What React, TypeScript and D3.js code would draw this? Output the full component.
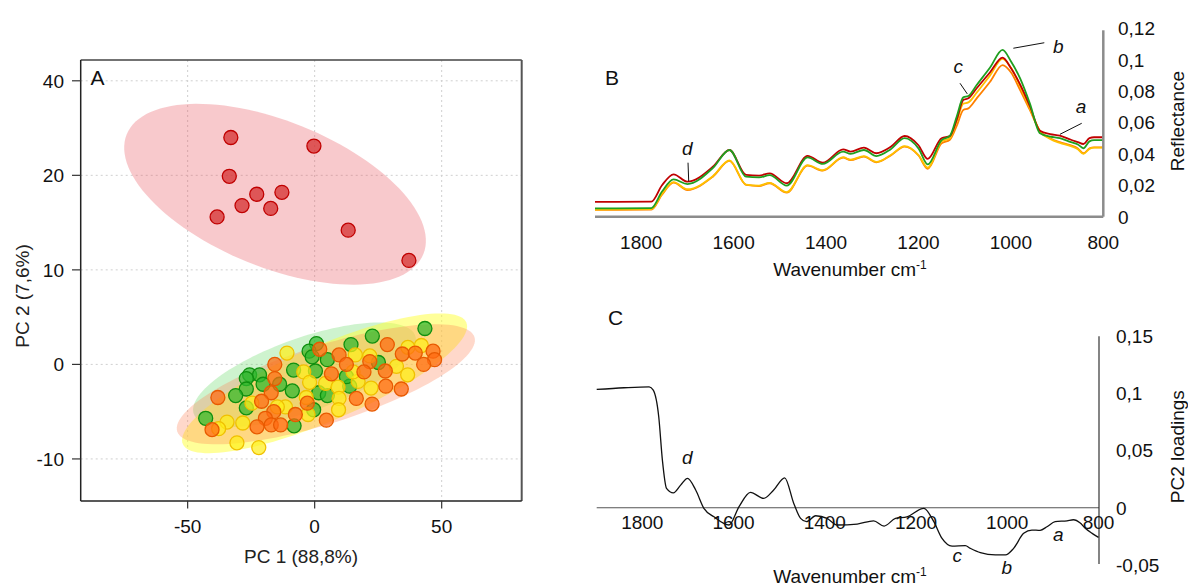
import React from "react";
import * as d3 from "d3";

// ---------- Panel A data (PCA scores) ----------
const redPC1 = [-33.0, -0.3, -33.6, -22.8, -12.9, -28.6, -17.3, -38.4, 13.2, 37.1];
const redPC2 = [24.0, 23.1, 19.9, 18.0, 18.2, 16.8, 16.5, 15.6, 14.2, 11.0];

const greenPC1 = [43.4, 22.7, 14.3, 0.7, -2.2, -1.0, 5.0, 25.1, -8.3, 0.3, -25.6, -21.7, -26.9, -20.3, -13.8, -26.9, -8.8, -31.1, 1.6, 5.0, 13.8, -26.9, -0.4, -42.9, -8.1, 12.5];
const greenPC2 = [3.8, 3.0, 2.1, 2.2, 1.4, 0.8, 0.5, 0.2, -0.6, -0.7, -1.1, -1.1, -1.5, -2.1, -2.1, -2.6, -2.8, -3.3, -3.0, -3.3, -2.3, -4.6, -4.8, -5.7, -6.5, -1.3];

const yellowPC1 = [-10.9, 36.7, 42.0, 16.0, 21.7, -4.3, -2.0, 4.3, 9.2, 32.2, 36.6, 17.1, 22.2, 9.6, 9.4, -3.3, -11.5, -14.7, -24.7, -34.5, -28.3, -37.8, -30.6, -22.0, -2.6, 15.1];
const yellowPC2 = [1.2, 1.8, 2.0, 1.0, 0.9, -0.8, -1.9, -2.0, -2.4, -0.2, -1.1, -1.8, -2.5, -3.6, -4.8, -3.5, -4.5, -4.5, -4.1, -6.1, -6.2, -6.8, -8.3, -8.8, -5.3, -0.8];

const orangePC1 = [2.0, 9.6, 28.6, 34.5, 39.6, 46.6, 47.2, 42.9, 21.7, 19.4, 27.8, 12.5, 6.6, -15.7, -15.7, -17.1, -38.1, -20.9, -2.9, 16.4, 22.6, 28.0, 34.1, -16.1, -19.4, -7.6, 4.6, -22.7, -17.1, -13.4, -40.4];
const orangePC2 = [1.6, 1.0, 2.1, 1.1, 1.2, 1.4, 0.5, 0.0, 0.3, -0.8, -0.7, 0.0, -1.0, 0.0, -1.5, -3.0, -3.5, -3.9, -4.1, -3.6, -4.2, -2.3, -2.6, -5.0, -5.7, -5.3, -5.9, -6.6, -6.4, -6.4, -6.9];

// confidence ellipses: centre and semi-axis vectors, in score units
const ellipseGroups = ["green", "yellow", "orange", "red"];
const ellipseCenterX = [-4.0, 3.9, 4.4, -15.6];
const ellipseCenterY = [-1.1, -2.0, -2.1, 18.0];
const ellipseMajorX = [43.6, 55.8, 58.5, 58.4];
const ellipseMajorY = [4.13, 6.43, 4.99, -6.33];
const ellipseMinorX = [4.83, 5.82, 4.64, -10.75];
const ellipseMinorY = [-3.68, -3.65, -3.93, -7.17];

const xTicksA = [-50, 0, 50];
const yTicksA = [-10, 0, 10, 20, 30];
const yTickLabelsA = ["-10", "0", "10", "20", "40"];

// ---------- Panel B data (spectra) ----------
const wnB = [1900, 1778, 1755, 1730, 1700, 1645, 1609, 1573, 1545, 1522, 1485, 1440, 1407, 1363, 1347, 1318, 1291, 1260, 1230, 1200, 1180, 1150, 1132, 1117, 1103, 1092, 1074, 1045, 1018, 1000, 980, 959, 937, 915, 894, 870, 855, 843, 830, 820, 800];
const reflRed = [0.0094, 0.0096, 0.020, 0.027, 0.0223, 0.0318, 0.0425, 0.0266, 0.0262, 0.0276, 0.0213, 0.0387, 0.0344, 0.0429, 0.0415, 0.044, 0.0404, 0.0445, 0.0514, 0.0455, 0.0368, 0.050, 0.0513, 0.062, 0.0743, 0.0754, 0.0818, 0.092, 0.1013, 0.0947, 0.0842, 0.0705, 0.0547, 0.0526, 0.0516, 0.049, 0.0475, 0.0463, 0.050, 0.0506, 0.0506];
const reflGreen = [0.0053, 0.0055, 0.016, 0.0238, 0.0208, 0.031, 0.0425, 0.0255, 0.025, 0.0265, 0.0198, 0.0378, 0.0336, 0.0415, 0.040, 0.0425, 0.0386, 0.043, 0.050, 0.0435, 0.0333, 0.0488, 0.0515, 0.064, 0.076, 0.0769, 0.0839, 0.095, 0.1062, 0.099, 0.0881, 0.0722, 0.0531, 0.051, 0.050, 0.0475, 0.046, 0.0436, 0.048, 0.0488, 0.0488];
const reflYellow = [0.0046, 0.0048, 0.0145, 0.022, 0.0175, 0.0258, 0.0358, 0.0205, 0.0198, 0.0216, 0.0156, 0.0328, 0.0296, 0.0379, 0.0363, 0.0386, 0.0349, 0.0393, 0.0449, 0.0393, 0.0312, 0.048, 0.050, 0.061, 0.072, 0.0728, 0.079, 0.090, 0.1005, 0.095, 0.083, 0.069, 0.0545, 0.0495, 0.047, 0.045, 0.043, 0.040, 0.0432, 0.044, 0.044];
const reflOrange = [0.0043, 0.0045, 0.014, 0.0217, 0.017, 0.0255, 0.0355, 0.0202, 0.0195, 0.0213, 0.0153, 0.0325, 0.0293, 0.0376, 0.036, 0.0383, 0.0346, 0.039, 0.0446, 0.039, 0.0305, 0.0467, 0.049, 0.058, 0.068, 0.069, 0.0754, 0.086, 0.0966, 0.092, 0.0807, 0.068, 0.0545, 0.050, 0.0475, 0.0455, 0.0435, 0.0404, 0.0435, 0.0442, 0.0442];

const xTicksB = [1800, 1600, 1400, 1200, 1000, 800];
const yTicksB = [0, 0.02, 0.04, 0.06, 0.08, 0.1, 0.12];
const yTickLabelsB = ["0", "0,02", "0,04", "0,06", "0,08", "0,1", "0,12"];

const annotB = ["d", "c", "b", "a"];
const annotBTextWn = [1700.3, 1113.8, 897.4, 848.2];
const annotBTextV = [0.0396, 0.0913, 0.1044, 0.0659];
const annotBLineWn1 = [1698.7, 1110.1, 927.7, 846.7];
const annotBLineV1 = [0.0344, 0.085, 0.1108, 0.0595];
const annotBLineWn2 = [1697.2, 1094.3, 994.7, 893.7];
const annotBLineV2 = [0.0225, 0.0782, 0.1073, 0.0525];

// ---------- Panel C data (PC2 loadings) ----------
const wnC = [1900, 1840, 1785, 1776, 1764, 1756, 1747, 1732, 1716, 1701, 1683, 1665, 1643, 1610, 1588, 1563, 1534, 1512, 1488, 1468, 1453, 1440, 1420, 1395, 1373, 1329, 1293, 1270, 1245, 1220, 1183, 1161, 1143, 1121, 1092, 1081, 1059, 1026, 1004, 986, 964, 946, 928, 913, 895, 869, 855, 840, 829, 814, 800];
const loadPC2 = [0.1035, 0.105, 0.1058, 0.1029, 0.0796, 0.0417, 0.017, 0.0131, 0.0198, 0.0257, 0.0155, -0.0005, -0.0079, -0.0151, 0.0009, 0.0135, 0.0082, 0.0155, 0.0262, 0.0038, -0.0093, -0.0122, -0.007, -0.0093, -0.0151, -0.0143, -0.0114, -0.016, -0.0093, -0.0079, -0.0005, -0.0122, -0.0268, -0.0335, -0.0332, -0.0355, -0.0393, -0.0413, -0.0413, -0.0355, -0.0224, -0.0195, -0.0198, -0.0166, -0.0122, -0.0114, -0.0105, -0.0134, -0.018, -0.0224, -0.0259];

const xTicksC = [1800, 1600, 1400, 1200, 1000, 800];
const yTicksC = [-0.05, 0, 0.05, 0.1, 0.15];
const yTickLabelsC = ["-0,05", "0", "0,05", "0,1", "0,15"];

const annotC = ["d", "c", "b", "a"];
const annotCWn = [1701.4, 1109.5, 1001.2, 888.1];
const annotCV = [0.0387, -0.0478, -0.0576, -0.0291];

const FONT = "'Liberation Sans', Arial, sans-serif";

export default function App() {
  // ---- scales ----
  const xA = d3.scaleLinear().domain([-92.1, 81.5]).range([80.7, 521.7]);
  const yA = d3.scaleLinear().domain([-14.45, 32.2]).range([501, 60]);

  const xB = d3.scaleLinear().domain([1900, 800]).range([595, 1103.3]);
  const yB = d3.scaleLinear().domain([0, 0.12]).range([216.7, 28.3]);

  const xC = d3.scaleLinear().domain([1900, 800]).range([596.7, 1098.5]);
  const yC = d3.scaleLinear().domain([-0.05, 0.15]).range([564.9, 336.3]);

  const ellipseStyle: Record<string, { fill: string; op: number }> = {
    green: { fill: "#5cd65c", op: 0.3 },
    yellow: { fill: "#ffff33", op: 0.5 },
    orange: { fill: "#ff7f50", op: 0.3 },
    red: { fill: "#e8575f", op: 0.32 },
  };

  const ellipsePath = (i: number) => {
    const pts: [number, number][] = d3.range(0, 121).map((k) => {
      const t = (k / 120) * 2 * Math.PI;
      const dx = ellipseCenterX[i] + ellipseMajorX[i] * Math.cos(t) + ellipseMinorX[i] * Math.sin(t);
      const dy = ellipseCenterY[i] + ellipseMajorY[i] * Math.cos(t) + ellipseMinorY[i] * Math.sin(t);
      return [xA(dx), yA(dy)];
    });
    return d3.line().curve(d3.curveLinearClosed)(pts) || "";
  };

  const groups = [
    { xs: greenPC1, ys: greenPC2, fill: "#2eb82e", stroke: "#0f8f0f" },
    { xs: yellowPC1, ys: yellowPC2, fill: "#ffee1a", stroke: "#f0c000" },
    { xs: orangePC1, ys: orangePC2, fill: "#ff6a10", stroke: "#e85a00" },
    { xs: redPC1, ys: redPC2, fill: "#d42a2a", stroke: "#c00000" },
  ];

  const lineB = (vals: number[]) =>
    d3.line<number>().x((_, i) => xB(wnB[i])).y((v) => yB(v)).curve(d3.curveMonotoneX)(vals) || "";
  const lineC =
    d3.line<number>().x((_, i) => xC(wnC[i])).y((v) => yC(v)).curve(d3.curveMonotoneX)(loadPC2) || "";

  const spectra = [
    { vals: reflOrange, color: "#ff8000" },
    { vals: reflYellow, color: "#ffc000" },
    { vals: reflRed, color: "#c00000" },
    { vals: reflGreen, color: "#1f9f1f" },
  ];

  const fs = 19;

  return (
    <svg
      width={1188}
      height={588}
      style={{ position: "absolute", left: 0, top: 0, background: "#fff" }}
      fontFamily={FONT}
    >
      {/* ================= Panel A ================= */}
      <g>
        {/* grid */}
        {xTicksA.map((t) => (
          <line key={"gx" + t} x1={xA(t)} x2={xA(t)} y1={60} y2={501} stroke="#cfcfcf" strokeDasharray="2,3" />
        ))}
        {yTicksA.map((t) => (
          <line key={"gy" + t} x1={80.7} x2={521.7} y1={yA(t)} y2={yA(t)} stroke="#cfcfcf" strokeDasharray="2,3" />
        ))}
        {/* ellipses */}
        {ellipseGroups.map((g, i) => (
          <path key={"el" + g} d={ellipsePath(i)} fill={ellipseStyle[g].fill} fillOpacity={ellipseStyle[g].op} stroke="none" />
        ))}
        {/* points */}
        {groups.map((g, gi) =>
          g.xs.map((x, i) => (
            <circle
              key={"p" + gi + "-" + i}
              cx={xA(x)}
              cy={yA(g.ys[i])}
              r={7}
              fill={g.fill}
              fillOpacity={0.72}
              stroke={g.stroke}
              strokeWidth={1.3}
            />
          ))
        )}
        {/* frame */}
        <line x1={80.7} x2={521.7} y1={60} y2={60} stroke="#444" strokeWidth={1.5} />
        <line x1={521.7} x2={521.7} y1={60} y2={501} stroke="#555" strokeWidth={2} />
        <line x1={80.7} x2={80.7} y1={60} y2={501} stroke="#222" strokeWidth={1.5} />
        <line x1={80.7} x2={521.7} y1={501} y2={501} stroke="#222" strokeWidth={1.5} />
        {/* ticks */}
        {yTicksA.map((t, i) => (
          <g key={"ty" + t}>
            <line x1={72} x2={80.7} y1={yA(t)} y2={yA(t)} stroke="#333" strokeWidth={1.2} />
            <text x={64} y={yA(t) + 6.8} textAnchor="end" fontSize={fs} fill="#111">
              {yTickLabelsA[i]}
            </text>
          </g>
        ))}
        {xTicksA.map((t) => (
          <g key={"tx" + t}>
            <line x1={xA(t)} x2={xA(t)} y1={501} y2={508.5} stroke="#333" strokeWidth={1.2} />
            <text x={xA(t)} y={532.5} textAnchor="middle" fontSize={fs} fill="#111">
              {t}
            </text>
          </g>
        ))}
        <text x={90.5} y={85} fontSize={21} fill="#111">A</text>
        <text x={301} y={563} textAnchor="middle" fontSize={fs} fill="#222">PC 1 (88,8%)</text>
        <text
          transform="translate(29,296) rotate(-90)"
          textAnchor="middle"
          fontSize={fs}
          fill="#222"
        >
          PC 2 (7,6%)
        </text>
      </g>

      {/* ================= Panel B ================= */}
      <g>
        {spectra.map((s, i) => (
          <path key={"sp" + i} d={lineB(s.vals)} fill="none" stroke={s.color} strokeWidth={1.8} />
        ))}
        <line x1={595} x2={1103.3} y1={yB(0)} y2={yB(0)} stroke="#8c8c8c" strokeWidth={2.5} />
        <line x1={1103.3} x2={1103.3} y1={yB(0.12) + 2} y2={yB(0)} stroke="#8c8c8c" strokeWidth={2.5} />
        {xTicksB.map((t) => (
          <text key={"bx" + t} x={xB(t)} y={248.5} textAnchor="middle" fontSize={fs} fill="#111">
            {t}
          </text>
        ))}
        {yTicksB.map((t, i) => (
          <text key={"by" + t} x={1118} y={yB(t) + 6.8} fontSize={fs} fill="#111">
            {yTickLabelsB[i]}
          </text>
        ))}
        <text x={605} y={85} fontSize={21} fill="#111">B</text>
        <text x={850} y={276} textAnchor="middle" fontSize={fs} fill="#111">
          Wavenumber cm
          <tspan dy={-7} fontSize={12}>-1</tspan>
        </text>
        <text transform="translate(1183.5,121) rotate(-90)" textAnchor="middle" fontSize={fs} fill="#111">
          Reflectance
        </text>
        {annotB.map((a, i) => (
          <g key={"ab" + a}>
            <line
              x1={xB(annotBLineWn1[i])}
              y1={yB(annotBLineV1[i])}
              x2={xB(annotBLineWn2[i])}
              y2={yB(annotBLineV2[i])}
              stroke="#111"
              strokeWidth={1}
            />
            <text x={xB(annotBTextWn[i])} y={yB(annotBTextV[i])} textAnchor="middle" fontSize={fs} fontStyle="italic" fill="#111">
              {a}
            </text>
          </g>
        ))}
      </g>

      {/* ================= Panel C ================= */}
      <g>
        <line x1={596.7} x2={1099} y1={yC(0)} y2={yC(0)} stroke="#555" strokeWidth={1.2} />
        <line x1={1099} x2={1099} y1={yC(0.15)} y2={yC(-0.05) - 1} stroke="#333" strokeWidth={1.2} />
        <path d={lineC} fill="none" stroke="#111" strokeWidth={1.3} />
        {xTicksC.map((t) => (
          <text key={"cx" + t} x={xC(t)} y={529} textAnchor="middle" fontSize={fs} fill="#111">
            {t}
          </text>
        ))}
        {yTicksC.map((t, i) => (
          <text key={"cy" + t} x={1116} y={yC(t) + 6.8} fontSize={fs} fill="#111">
            {yTickLabelsC[i]}
          </text>
        ))}
        <text x={608} y={325} fontSize={21} fill="#111">C</text>
        <text x={850} y={583} textAnchor="middle" fontSize={fs} fill="#111">
          Wavenumber cm
          <tspan dy={-7} fontSize={12}>-1</tspan>
        </text>
        <text transform="translate(1183.5,446.7) rotate(-90)" textAnchor="middle" fontSize={fs} fill="#111">
          PC2 loadings
        </text>
        {annotC.map((a, i) => (
          <text key={"ac" + a} x={xC(annotCWn[i])} y={yC(annotCV[i])} textAnchor="middle" fontSize={fs} fontStyle="italic" fill="#111">
            {a}
          </text>
        ))}
      </g>
    </svg>
  );
}
